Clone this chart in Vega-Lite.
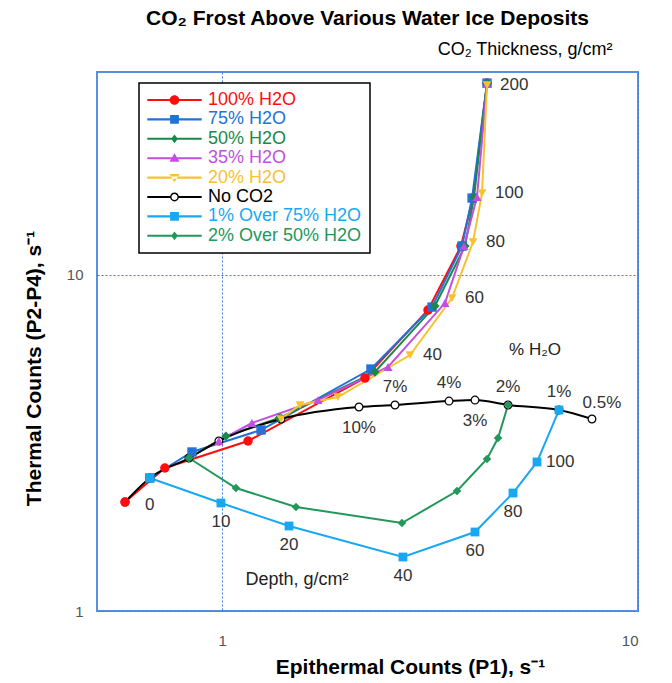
{
  "$schema": "https://vega.github.io/schema/vega-lite/v6.json",
  "width": 541,
  "height": 539,
  "autosize": "none",
  "padding": {"left": 97, "top": 72, "right": 34, "bottom": 72},
  "background": "white",
  "title": {"text": "CO₂ Frost Above Various Water Ice Deposits", "font": "Liberation Sans", "fontSize": 21, "fontWeight": "bold", "color": "black", "anchor": "middle", "frame": "group", "offset": 12},
  "config": {
    "font": "Liberation Sans",
    "view": {"stroke": "#5b8fdb", "strokeWidth": 2},
    "axis": {"domain": false, "ticks": false, "grid": true, "gridColor": "#3a7be0", "gridDash": [2, 2], "gridWidth": 1, "gridOpacity": 1, "labelColor": "#555555", "labelFontSize": 15, "labelFont": "Liberation Sans", "titleFont": "Liberation Sans", "titleFontSize": 21, "titleFontWeight": "bold", "titleColor": "black"}
  },
  "datasets": {
    "pts": [
      {"s": "100% H2O", "i": 0, "t": 0, "x": 0.584, "y": 2.108},
      {"s": "100% H2O", "i": 1, "t": 10, "x": 0.728, "y": 2.661},
      {"s": "100% H2O", "i": 2, "t": 20, "x": 1.154, "y": 3.201},
      {"s": "100% H2O", "i": 3, "t": 40, "x": 2.205, "y": 4.925},
      {"s": "100% H2O", "i": 4, "t": 60, "x": 3.126, "y": 7.844},
      {"s": "100% H2O", "i": 5, "t": 80, "x": 3.752, "y": 12.15},
      {"s": "100% H2O", "i": 6, "t": 100, "x": 4.01, "y": 16.88},
      {"s": "100% H2O", "i": 7, "t": 200, "x": 4.334, "y": 37.07},
      {"s": "75% H2O", "i": 0, "t": 0, "x": 0.67, "y": 2.485},
      {"s": "75% H2O", "i": 1, "t": 10, "x": 0.846, "y": 2.969},
      {"s": "75% H2O", "i": 2, "t": 20, "x": 1.24, "y": 3.451},
      {"s": "75% H2O", "i": 3, "t": 40, "x": 2.279, "y": 5.239},
      {"s": "75% H2O", "i": 4, "t": 60, "x": 3.196, "y": 8.005},
      {"s": "75% H2O", "i": 5, "t": 80, "x": 3.774, "y": 12.15},
      {"s": "75% H2O", "i": 6, "t": 100, "x": 3.99, "y": 16.88},
      {"s": "75% H2O", "i": 7, "t": 200, "x": 4.334, "y": 37.07},
      {"s": "50% H2O", "i": 0, "t": 0, "x": 0.832, "y": 2.849},
      {"s": "50% H2O", "i": 1, "t": 10, "x": 1.021, "y": 3.311},
      {"s": "50% H2O", "i": 2, "t": 20, "x": 1.37, "y": 3.746},
      {"s": "50% H2O", "i": 3, "t": 40, "x": 2.33, "y": 5.132},
      {"s": "50% H2O", "i": 4, "t": 60, "x": 3.249, "y": 8.061},
      {"s": "50% H2O", "i": 5, "t": 80, "x": 3.837, "y": 12.15},
      {"s": "50% H2O", "i": 6, "t": 100, "x": 4.033, "y": 17.0},
      {"s": "50% H2O", "i": 7, "t": 200, "x": 4.334, "y": 37.07},
      {"s": "35% H2O", "i": 0, "t": 0, "x": 0.982, "y": 3.201},
      {"s": "35% H2O", "i": 1, "t": 10, "x": 1.179, "y": 3.62},
      {"s": "35% H2O", "i": 2, "t": 20, "x": 1.7, "y": 4.236},
      {"s": "35% H2O", "i": 3, "t": 40, "x": 2.505, "y": 5.311},
      {"s": "35% H2O", "i": 4, "t": 60, "x": 3.434, "y": 8.228},
      {"s": "35% H2O", "i": 5, "t": 80, "x": 3.816, "y": 12.15},
      {"s": "35% H2O", "i": 6, "t": 100, "x": 4.1, "y": 17.0},
      {"s": "35% H2O", "i": 7, "t": 200, "x": 4.334, "y": 36.8},
      {"s": "20% H2O", "i": 0, "t": 0, "x": 1.385, "y": 3.721},
      {"s": "20% H2O", "i": 1, "t": 10, "x": 1.539, "y": 4.095},
      {"s": "20% H2O", "i": 2, "t": 20, "x": 1.898, "y": 4.325},
      {"s": "20% H2O", "i": 3, "t": 40, "x": 2.83, "y": 5.766},
      {"s": "20% H2O", "i": 4, "t": 60, "x": 3.57, "y": 8.515},
      {"s": "20% H2O", "i": 5, "t": 80, "x": 4.01, "y": 12.49},
      {"s": "20% H2O", "i": 6, "t": 100, "x": 4.216, "y": 17.47},
      {"s": "20% H2O", "i": 7, "t": 200, "x": 4.334, "y": 36.58},
      {"s": "No CO2", "i": 0, "p": "100%", "x": 0.584, "y": 2.108},
      {"s": "No CO2", "i": 1, "p": "75%", "x": 0.67, "y": 2.485},
      {"s": "No CO2", "i": 2, "p": "50%", "x": 0.832, "y": 2.849},
      {"s": "No CO2", "i": 3, "p": "35%", "x": 0.982, "y": 3.201},
      {"s": "No CO2", "i": 4, "p": "20%", "x": 1.385, "y": 3.721},
      {"s": "No CO2", "i": 5, "p": "10%", "x": 2.133, "y": 4.039},
      {"s": "No CO2", "i": 6, "p": "7%", "x": 2.604, "y": 4.095},
      {"s": "No CO2", "i": 7, "p": "4%", "x": 3.512, "y": 4.207},
      {"s": "No CO2", "i": 8, "p": "3%", "x": 4.055, "y": 4.236},
      {"s": "No CO2", "i": 9, "p": "2%", "x": 4.869, "y": 4.095},
      {"s": "No CO2", "i": 10, "p": "1%", "x": 6.457, "y": 3.957},
      {"s": "No CO2", "i": 11, "p": "0.5%", "x": 7.75, "y": 3.721},
      {"s": "1% Over 75% H2O", "i": 0, "t": 0, "x": 0.67, "y": 2.485},
      {"s": "1% Over 75% H2O", "i": 1, "t": 10, "x": 0.993, "y": 2.094},
      {"s": "1% Over 75% H2O", "i": 2, "t": 20, "x": 1.448, "y": 1.789},
      {"s": "1% Over 75% H2O", "i": 3, "t": 40, "x": 2.721, "y": 1.447},
      {"s": "1% Over 75% H2O", "i": 4, "t": 60, "x": 4.055, "y": 1.717},
      {"s": "1% Over 75% H2O", "i": 5, "t": 80, "x": 5.005, "y": 2.242},
      {"s": "1% Over 75% H2O", "i": 6, "t": 100, "x": 5.717, "y": 2.773},
      {"s": "1% Over 75% H2O", "i": 7, "t": null, "x": 6.457, "y": 3.957},
      {"s": "2% Over 50% H2O", "i": 0, "t": 0, "x": 0.832, "y": 2.849},
      {"s": "2% Over 50% H2O", "i": 1, "t": 10, "x": 1.079, "y": 2.32},
      {"s": "2% Over 50% H2O", "i": 2, "t": 20, "x": 1.505, "y": 2.038},
      {"s": "2% Over 50% H2O", "i": 3, "t": 40, "x": 2.706, "y": 1.826},
      {"s": "2% Over 50% H2O", "i": 4, "t": 60, "x": 3.67, "y": 2.273},
      {"s": "2% Over 50% H2O", "i": 5, "t": 80, "x": 4.334, "y": 2.83},
      {"s": "2% Over 50% H2O", "i": 6, "t": 100, "x": 4.607, "y": 3.267},
      {"s": "2% Over 50% H2O", "i": 7, "t": null, "x": 4.869, "y": 4.095}
    ]
  },
  "layer": [
    {
      "data": {"name": "pts"},
      "encoding": {
        "x": {"field": "x", "type": "quantitative", "scale": {"type": "log", "domain": [0.5, 10], "nice": false}, "axis": {"values": [1, 10], "format": "d", "labelPadding": 22, "titlePadding": 8, "title": "Epithermal Counts (P1), s⁻¹", "titleX": 313}},
        "y": {"field": "y", "type": "quantitative", "scale": {"type": "log", "domain": [1, 40], "nice": false}, "axis": {"values": [1, 10], "format": "d", "labelPadding": 14, "titlePadding": 22, "title": "Thermal Counts (P2-P4), s⁻¹", "titleY": 296}}
      },
      "layer": [
        {
          "transform": [{"filter": "datum.s != 'No CO2'"}],
          "mark": {"type": "line", "strokeWidth": 2},
          "encoding": {
            "color": {"field": "s", "type": "nominal",
              "scale": {"domain": ["100% H2O", "75% H2O", "50% H2O", "35% H2O", "20% H2O", "No CO2", "1% Over 75% H2O", "2% Over 50% H2O"], "range": ["#ff0d0d", "#2272d8", "#1b8748", "#c24fe0", "#f7c230", "#000000", "#18a8f2", "#21985a"]},
              "legend": {"title": null, "orient": "none", "legendX": 42, "legendY": 11, "padding": 8, "strokeColor": "black", "fillColor": "white", "labelFont": "Liberation Sans", "labelFontSize": 18, "labelOffset": 24.5, "symbolOffset": 18.5, "symbolSize": 256, "symbolStrokeWidth": 0, "rowPadding": 1.4, "labelLimit": 300,
                "encode": {
                  "legend": {"update": {"strokeWidth": {"value": 1.5}}},
                  "symbols": {"update": {
                    "shape": {"signal": "datum.value == '100% H2O' ? 'M-3.4,-0.13H3.4V0.13H-3.4ZM0.6,0A0.6,0.6 0 1,1 -0.6,0A0.6,0.6 0 1,1 0.6,0Z' : (datum.value == '75% H2O' || datum.value == '1% Over 75% H2O') ? 'M-3.4,-0.13H3.4V0.13H-3.4ZM-0.55,-0.55H0.55V0.55H-0.55Z' : (datum.value == '50% H2O' || datum.value == '2% Over 50% H2O') ? 'M-3.4,-0.13H3.4V0.13H-3.4ZM0,-0.55L0.42,0L0,0.55L-0.42,0Z' : datum.value == '35% H2O' ? 'M-3.4,-0.13H3.4V0.13H-3.4ZM0,-0.62L0.62,0.45H-0.62Z' : datum.value == '20% H2O' ? 'M-3.4,-0.13H3.4V0.13H-3.4ZM0,0.62L0.62,-0.45H-0.62Z' : 'M-3.4,-0.12H-0.5V0.12H-3.4ZM0.5,-0.12H3.4V0.12H0.5ZM0.55,0A0.55,0.55 0 1,1 -0.55,0A0.55,0.55 0 1,1 0.55,0ZM0.38,0A0.38,0.38 0 1,0 -0.38,0A0.38,0.38 0 1,0 0.38,0Z'"},
                    "fill": {"signal": "scale('color', datum.value)"},
                    "stroke": {"signal": "scale('color', datum.value)"},
                    "strokeWidth": {"value": 0},
                    "fillOpacity": {"value": 1},
                    "strokeOpacity": {"value": 1}
                  }},
                  "labels": {"update": {"fill": {"signal": "scale('color', datum.value)"}}}
                }
              }
            },
            "order": {"field": "i", "type": "quantitative"}
          }
        },
        {
          "transform": [{"filter": "datum.s == 'No CO2'"}],
          "mark": {"type": "line", "strokeWidth": 2, "color": "black", "interpolate": "monotone"},
          "encoding": {"order": {"field": "i", "type": "quantitative"}}
        },
        {
          "transform": [{"filter": "datum.s == 'No CO2'"}],
          "mark": {"type": "point", "shape": "circle", "size": 60, "filled": true, "fill": "white", "stroke": "black", "strokeWidth": 1.2, "opacity": 1}
        },
        {
          "transform": [{"filter": "datum.s != 'No CO2'"}],
          "mark": {"type": "point", "filled": true, "opacity": 1},
          "encoding": {
            "color": {"field": "s", "type": "nominal", "legend": null},
            "shape": {"field": "s", "type": "nominal", "scale": {"domain": ["100% H2O", "75% H2O", "50% H2O", "35% H2O", "20% H2O", "1% Over 75% H2O", "2% Over 50% H2O"], "range": ["circle", "square", "diamond", "triangle-up", "triangle-down", "square", "diamond"]}, "legend": null},
            "size": {"field": "s", "type": "nominal", "scale": {"domain": ["100% H2O", "75% H2O", "50% H2O", "35% H2O", "20% H2O", "1% Over 75% H2O", "2% Over 50% H2O"], "range": [90, 75, 45, 90, 80, 105, 45]}, "legend": null}
          }
        },
        {
          "transform": [{"filter": "datum.s == 'No CO2' && indexof(['7%','4%','2%','1%'], datum.p) >= 0"}],
          "mark": {"type": "text", "dy": -18, "fontSize": 17, "color": "#333333"},
          "encoding": {"text": {"field": "p", "type": "nominal"}}
        },
        {
          "transform": [{"filter": "datum.s == 'No CO2' && indexof(['10%','3%'], datum.p) >= 0"}],
          "mark": {"type": "text", "dy": 21, "fontSize": 17, "color": "#333333"},
          "encoding": {"text": {"field": "p", "type": "nominal"}}
        },
        {
          "transform": [{"filter": "datum.s == 'No CO2' && datum.p == '0.5%'"}],
          "mark": {"type": "text", "dx": 10, "dy": -16, "fontSize": 17, "color": "#333333"},
          "encoding": {"text": {"field": "p", "type": "nominal"}}
        },
        {
          "transform": [{"filter": "datum.s == '20% H2O' && datum.t >= 40"}],
          "mark": {"type": "text", "align": "left", "dx": 13, "fontSize": 17, "color": "#333333"},
          "encoding": {"text": {"field": "t", "type": "nominal"}}
        },
        {
          "transform": [{"filter": "datum.s == '1% Over 75% H2O' && datum.t >= 10 && datum.t <= 80"}],
          "mark": {"type": "text", "dy": 19, "fontSize": 17, "color": "#333333"},
          "encoding": {"text": {"field": "t", "type": "nominal"}}
        },
        {
          "transform": [{"filter": "datum.s == '1% Over 75% H2O' && datum.t == 0"}],
          "mark": {"type": "text", "dy": 27, "fontSize": 17, "color": "#333333"},
          "encoding": {"text": {"field": "t", "type": "nominal"}}
        },
        {
          "transform": [{"filter": "datum.s == '1% Over 75% H2O' && datum.t == 100"}],
          "mark": {"type": "text", "align": "left", "dx": 9, "fontSize": 17, "color": "#333333"},
          "encoding": {"text": {"field": "t", "type": "nominal"}}
        }
      ]
    },
    {
      "data": {"values": [{"lab": "Depth, g/cm²"}]},
      "mark": {"type": "text", "fontSize": 18, "color": "#222222"},
      "encoding": {"x": {"datum": 1.513, "type": "quantitative"}, "y": {"datum": 1.236, "type": "quantitative"}, "text": {"field": "lab", "type": "nominal"}}
    },
    {
      "data": {"values": [{"lab": "% H₂O"}]},
      "mark": {"type": "text", "fontSize": 17, "color": "#222222"},
      "encoding": {"x": {"datum": 5.655, "type": "quantitative"}, "y": {"datum": 5.966, "type": "quantitative"}, "text": {"field": "lab", "type": "nominal"}}
    },
    {
      "data": {"values": [{"lab": "CO₂ Thickness, g/cm²"}]},
      "mark": {"type": "text", "fontSize": 18, "color": "black"},
      "encoding": {"x": {"datum": 5.35, "type": "quantitative"}, "y": {"datum": 46.5, "type": "quantitative"}, "text": {"field": "lab", "type": "nominal"}}
    }
  ]
}
